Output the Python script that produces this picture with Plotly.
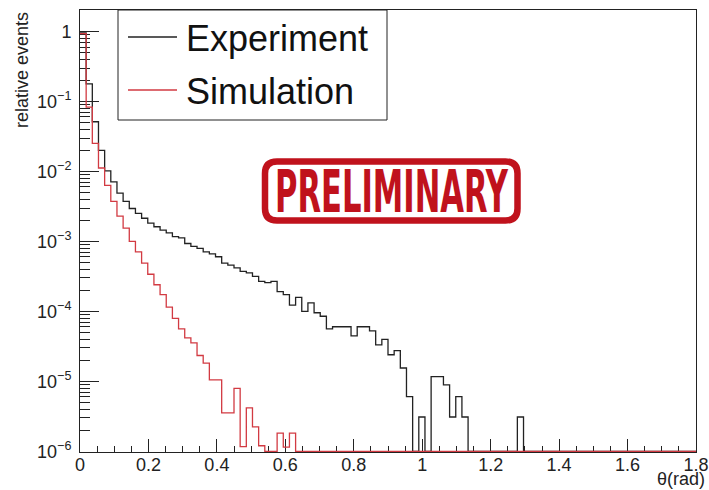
import plotly.graph_objects as go

# ---------------- data ----------------
bin_width = 0.018
n_bins = 100

experiment = [
    0.955, 0.178, 0.0513, 0.0200, 0.0102, 0.00708, 0.00490, 0.00372, 0.00295, 0.00251,
    0.00214, 0.00182, 0.00162, 0.00145, 0.00132, 0.00117, 0.00112, 0.000933, 0.000851, 0.000794,
    0.000708, 0.000661, 0.000603, 0.000490, 0.000457, 0.000417, 0.000372, 0.000355, 0.000316, 0.000269,
    0.000257, 0.000269, 0.000191, 0.000174, 0.000123, 0.000158, 0.000100, 0.000132, 0.0000955, 0.0000851,
    0.0000562, 0.0000603, 0.0000603, 0.0000603, 0.0000447, 0.0000603, 0.0000603, 0.0000525, 0.0000331, 0.0000398,
    0.0000240, 0.0000275, 0.0000155, 0.00000603, 0.0, 0.00000309, 0.0, 0.0000117, 0.0000117, 0.00000891,
    0.00000309, 0.00000603, 0.00000309, 0.0, 0.0, 0.0, 0.0, 0.0, 0.0, 0.0,
    0.0, 0.00000309, 0.0, 0.0, 0.0, 0.0, 0.0, 0.0, 0.0, 0.0,
    0.0, 0.0, 0.0, 0.0, 0.0, 0.0, 0.0, 0.0, 0.0, 0.0,
    0.0, 0.0, 0.0, 0.0, 0.0, 0.0, 0.0, 0.0, 0.0, 0.0,
]

simulation = [
    0.93, 0.0832, 0.0251, 0.0112, 0.00631, 0.00372, 0.00229, 0.00155, 0.00100, 0.000708,
    0.000490, 0.000339, 0.000240, 0.000174, 0.000115, 0.0000794, 0.0000562, 0.0000417, 0.0000355, 0.0000234,
    0.0000182, 0.0000105, 0.0000105, 0.00000355, 0.00000355, 0.00000794, 0.00000117, 0.00000417, 0.00000224, 0.0000012,
    0.0, 0.0, 0.00000182, 0.00000115, 0.00000182, 0.0, 0.0, 0.0, 0.0, 0.0,
] + [0.0] * 60

x_tick_vals = [0, 0.2, 0.4, 0.6, 0.8, 1.0, 1.2, 1.4, 1.6, 1.8]
x_tick_labels = ["0", "0.2", "0.4", "0.6", "0.8", "1", "1.2", "1.4", "1.6", "1.8"]
y_tick_vals = [1e-6, 1e-5, 1e-4, 1e-3, 1e-2, 1e-1, 1]
y_tick_labels = ["10<sup>\u22126</sup>", "10<sup>\u22125</sup>", "10<sup>\u22124</sup>",
                 "10<sup>\u22123</sup>", "10<sup>\u22122</sup>", "10<sup>\u22121</sup>", "1"]
legend_labels = ["Experiment", "Simulation"]
x_title = "\u03b8(rad)"
y_title = "relative events"
stamp_text = "PRELIMINARY"

# ---------------- styling ----------------
BLACK = "#222222"
RED = "#d23a42"
STAMP = "#c0121c"
FONT = "Liberation Sans, Arial, sans-serif"

W_PX, H_PX = 709, 490
L, R, T, B = 80, 696, 10, 452
PW, PH = R - L, B - T
Y_RANGE = [-6.01, 0.307]


def px(x):
    return (x - L) / PW


def py(y):
    return (B - y) / PH


floor = 1e-6
edges = [bin_width * i for i in range(n_bins + 1)]


def step_xy(values):
    ys = [v if v > floor else floor for v in values]
    return edges, ys + [ys[-1]]


fig = go.Figure()
for vals, col in ((experiment, BLACK), (simulation, RED)):
    xs, ys = step_xy(vals)
    fig.add_trace(go.Scatter(x=xs, y=ys, mode="lines", line=dict(color=col, width=1.3, shape="hv"),
                             showlegend=False, hoverinfo="skip"))
# invisible anchor trace for the overlay axis carrying the long decade ticks
fig.add_trace(go.Scatter(x=[0.9], y=[1e-3], yaxis="y2", mode="markers", marker=dict(opacity=0),
                         showlegend=False, hoverinfo="skip"))

# all log ticks (2..9 x decade plus decades); labels only on decades
all_y = []
all_txt = []
for e in range(-6, 1):
    for k in range(1, 10):
        v = k * 10 ** e
        if v > 2.0:
            continue
        all_y.append(v)
        all_txt.append(y_tick_labels[y_tick_vals.index(v)] if k == 1 else "")

tickfont = dict(size=18, family=FONT, color=BLACK)
fig.update_layout(
    width=W_PX, height=H_PX,
    margin=dict(l=L, r=W_PX - R, t=T, b=H_PX - B, pad=0, autoexpand=False),
    paper_bgcolor="white", plot_bgcolor="white",
    font=dict(family=FONT, color=BLACK),
    xaxis=dict(range=[0, 1.8], tickvals=x_tick_vals, ticktext=x_tick_labels, automargin=False,
               ticks="inside", ticklen=13, tickwidth=1, tickcolor=BLACK,
               minor=dict(ticks="inside", ticklen=6.5, dtick=0.05, tick0=0, tickcolor=BLACK, showgrid=False),
               showline=True, linecolor=BLACK, linewidth=1, mirror=True, showgrid=False, zeroline=False,
               tickfont=tickfont, layer="below traces", ticklabelstandoff=-4),
    yaxis=dict(type="log", range=Y_RANGE, tickvals=all_y, ticktext=all_txt, automargin=False,
               ticks="inside", ticklen=10, tickwidth=1, tickcolor=BLACK,
               showline=True, linecolor=BLACK, linewidth=1, mirror=True, showgrid=False, zeroline=False,
               tickfont=tickfont, layer="below traces", ticklabelstandoff=4),
    yaxis2=dict(type="log", range=Y_RANGE, overlaying="y", side="left", anchor="x", automargin=False,
                tickvals=y_tick_vals, ticks="inside", ticklen=19, tickwidth=1, tickcolor=BLACK,
                showticklabels=False, showline=False, showgrid=False, zeroline=False,
                layer="below traces"),
)

# legend box drawn manually (ROOT style)
fig.add_shape(type="rect", xref="paper", yref="paper", x0=px(118), x1=px(387), y0=py(120), y1=py(10),
              line=dict(color=BLACK, width=1), fillcolor="white", layer="above")
for i, (lab, col) in enumerate(zip(legend_labels, (BLACK, RED))):
    yc = (37, 90)[i]
    fig.add_shape(type="line", xref="paper", yref="paper", x0=px(128), x1=px(177), y0=py(yc), y1=py(yc),
                  line=dict(color=col, width=1.3), layer="above")
    fig.add_annotation(text=lab, xref="paper", yref="paper", x=px(184), y=py((38, 91)[i]),
                       xanchor="left", yanchor="middle", showarrow=False,
                       font=dict(size=36, family=FONT, color="#111111"))

# axis titles
fig.add_annotation(text=x_title, xref="paper", yref="paper", x=px(707), y=py(479),
                   xanchor="right", yanchor="middle", showarrow=False,
                   font=dict(size=18, family=FONT, color=BLACK))
fig.add_annotation(text=y_title, xref="paper", yref="paper", x=px(22), y=py(10),
                   xanchor="center", yanchor="top", textangle=-90, showarrow=False,
                   font=dict(size=18, family=FONT, color=BLACK))

# PRELIMINARY stamp
x0, x1, y0, y1, r = 265, 517.5, 161.5, 220.5, 12
path = (f"M {px(x0 + r)},{py(y0)} L {px(x1 - r)},{py(y0)} Q {px(x1)},{py(y0)} {px(x1)},{py(y0 + r)} "
        f"L {px(x1)},{py(y1 - r)} Q {px(x1)},{py(y1)} {px(x1 - r)},{py(y1)} "
        f"L {px(x0 + r)},{py(y1)} Q {px(x0)},{py(y1)} {px(x0)},{py(y1 - r)} "
        f"L {px(x0)},{py(y0 + r)} Q {px(x0)},{py(y0)} {px(x0 + r)},{py(y0)} Z")
fig.add_shape(type="path", xref="paper", yref="paper", path=path,
              line=dict(color=STAMP, width=6.5), layer="above")
fig.add_annotation(text=stamp_text, xref="paper", yref="paper", x=px(391.5), y=py(192),
                   xanchor="center", yanchor="middle", showarrow=False,
                   font=dict(size=58, family="Liberation Sans Narrow, DejaVu Sans Condensed, Liberation Sans",
                             color=STAMP, weight="bold"))

post = """
var gd = document.getElementById('{plot_id}');
function squash(){
  var els = gd.querySelectorAll('text.annotation-text');
  els.forEach(function(t){
    if (t.textContent === 'PRELIMINARY') {
      t.setAttribute('textLength', '233');
      t.setAttribute('lengthAdjust', 'spacingAndGlyphs');
    }
  });
}
squash();
if (gd.on) { gd.on('plotly_afterplot', squash); }
setTimeout(squash, 50);
"""

fig.write_html("out.html", post_script=post)
